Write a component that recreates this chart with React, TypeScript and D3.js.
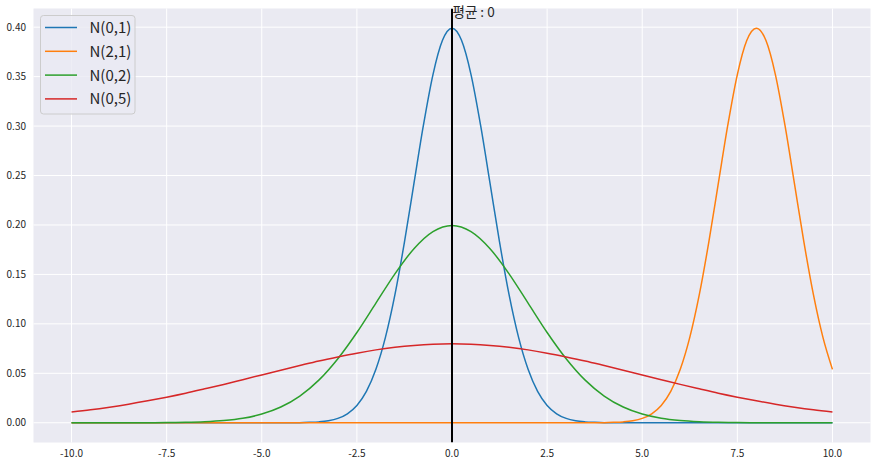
import React from "react";
import * as d3 from "d3";

const xs = [-10, -9.5, -9, -8.5, -8, -7.5, -7, -6.5, -6, -5.5, -5, -4.5, -4, -3.5, -3, -2.5, -2, -1.5, -1, -0.5, 0,
  0.5, 1, 1.5, 2, 2.5, 3, 3.5, 4, 4.5, 5, 5.5, 6, 6.5, 7, 7.5, 8, 8.5, 9, 9.5, 10];

const xs01 = [-10, -4.5, -4, -3.75, -3.5, -3.25, -3, -2.75, -2.5, -2.25, -2, -1.75, -1.5, -1.25, -1, -0.75, -0.5, -0.25, 0,
  0.25, 0.5, 0.75, 1, 1.25, 1.5, 1.75, 2, 2.25, 2.5, 2.75, 3, 3.25, 3.5, 3.75, 4, 4.5, 10];
const n01 = [0, 0, 0.0001, 0.0004, 0.0009, 0.002, 0.0044, 0.0091, 0.0175, 0.0317, 0.054, 0.0863, 0.1295, 0.1826, 0.242, 0.3011, 0.3521, 0.3867, 0.3989,
  0.3867, 0.3521, 0.3011, 0.242, 0.1826, 0.1295, 0.0863, 0.054, 0.0317, 0.0175, 0.0091, 0.0044, 0.002, 0.0009, 0.0004, 0.0001, 0, 0];

const xs21 = [-10, 3.5, 4, 4.25, 4.5, 4.75, 5, 5.25, 5.5, 5.75, 6, 6.25, 6.5, 6.75, 7, 7.25, 7.5, 7.75, 8,
  8.25, 8.5, 8.75, 9, 9.25, 9.5, 9.75, 10];
const n21 = [0, 0, 0.0001, 0.0004, 0.0009, 0.002, 0.0044, 0.0091, 0.0175, 0.0317, 0.054, 0.0863, 0.1295, 0.1826, 0.242, 0.3011, 0.3521, 0.3867, 0.3989,
  0.3867, 0.3521, 0.3011, 0.242, 0.1826, 0.1295, 0.0863, 0.054];

const n02 = [0, 0, 0, 0, 0.0001, 0.0002, 0.0004, 0.001, 0.0022, 0.0045, 0.0088, 0.0159, 0.027, 0.0431, 0.0648, 0.0913, 0.121, 0.1506, 0.176, 0.1933, 0.1995,
  0.1933, 0.176, 0.1506, 0.121, 0.0913, 0.0648, 0.0431, 0.027, 0.0159, 0.0088, 0.0045, 0.0022, 0.001, 0.0004, 0.0002, 0.0001, 0, 0, 0, 0];
const n05 = [0.0108, 0.0131, 0.0158, 0.0188, 0.0222, 0.0259, 0.0299, 0.0343, 0.0388, 0.0436, 0.0484, 0.0532, 0.0579, 0.0625, 0.0666, 0.0704, 0.0737, 0.0763, 0.0782, 0.0794, 0.0798,
  0.0794, 0.0782, 0.0763, 0.0737, 0.0704, 0.0666, 0.0625, 0.0579, 0.0532, 0.0484, 0.0436, 0.0388, 0.0343, 0.0299, 0.0259, 0.0222, 0.0188, 0.0158, 0.0131, 0.0108];

const seriesNames = ["N(0,1)", "N(2,1)", "N(0,2)", "N(0,5)"];
const seriesX = [xs01, xs21, xs, xs];
const seriesValues = [n01, n21, n02, n05];
const seriesColors = ["#1f77b4", "#ff7f0e", "#2ca02c", "#d62728"];

const xTicks = [-10, -7.5, -5, -2.5, 0, 2.5, 5, 7.5, 10];
const yTicks = [0, 0.05, 0.1, 0.15, 0.2, 0.25, 0.3, 0.35, 0.4];
const meanValue = 0;
const meanLabel = "평균 : 0";

const W = 877, H = 466;
const L = 33.5, R = 870.5, T = 8.5, B = 442.5;
const font = "'Noto Sans CJK KR', 'Noto Sans', sans-serif";

export default function App() {
  const x = d3.scaleLinear().domain([-11, 11]).range([L, R]);
  const y = d3.scaleLinear().domain([-0.01995, 0.41888]).range([B, T]);
  const makeLine = (xv: number[]) =>
    d3.line<number>()
      .x((_, i) => x(xv[i]))
      .y((d) => y(d))
      .curve(d3.curveMonotoneX);

  return (
    <svg width={W} height={H} style={{ position: "absolute", left: 0, top: 0 }} fontFamily={font}>
      <rect x={0} y={0} width={W} height={H} fill="#ffffff" />
      <rect x={L} y={T} width={R - L} height={B - T} fill="#EAEAF2" />
      <g>
        {xTicks.map((t) => (
          <line key={"gx" + t} x1={x(t)} x2={x(t)} y1={T} y2={B} stroke="#ffffff" strokeWidth={1} />
        ))}
        {yTicks.map((t) => (
          <line key={"gy" + t} x1={L} x2={R} y1={y(t)} y2={y(t)} stroke="#ffffff" strokeWidth={1} />
        ))}
      </g>
      <g fontSize={10} fill="#262626">
        {xTicks.map((t) => (
          <text key={"tx" + t} x={x(t)} y={457} textAnchor="middle">{t.toFixed(1)}</text>
        ))}
        {yTicks.map((t) => (
          <text key={"ty" + t} x={26} y={y(t)} dy="0.35em" textAnchor="end">{t.toFixed(2)}</text>
        ))}
      </g>
      <defs>
        <clipPath id="clip">
          <rect x={L} y={T} width={R - L} height={B - T} />
        </clipPath>
      </defs>
      <g clipPath="url(#clip)">
        {seriesValues.map((vals, i) => (
          <path key={seriesNames[i]} d={makeLine(seriesX[i])(vals) || ""} fill="none" stroke={seriesColors[i]} strokeWidth={1.5} />
        ))}
        <line x1={x(meanValue)} x2={x(meanValue)} y1={T} y2={B} stroke="#000000" strokeWidth={2} />
      </g>
      <text x={x(meanValue) + 0.5} y={17} fontSize={13.5} fill="#262626">{meanLabel}</text>
      <g>
        <rect x={40.5} y={15.5} width={94.5} height={98.5} rx={3} fill="#EAEAF2" fillOpacity={0.8} stroke="#cccccc" strokeWidth={1} />
        {seriesNames.map((n, i) => (
          <g key={n} transform={`translate(0, ${27.5 + i * 23.8})`}>
            <line x1={45} x2={77} y1={0} y2={0} stroke={seriesColors[i]} strokeWidth={1.5} />
            <text x={89.5} y={0} dy="0.36em" fontSize={15} fill="#262626">{n}</text>
          </g>
        ))}
      </g>
    </svg>
  );
}
